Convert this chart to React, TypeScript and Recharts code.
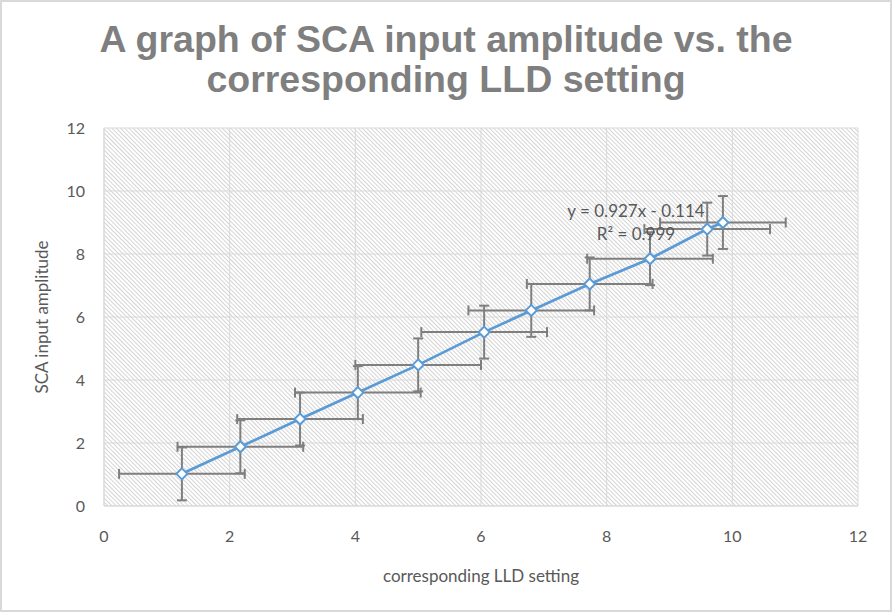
import React from "react";
import {
  CartesianGrid,
  ErrorBar,
  Scatter,
  ScatterChart,
  XAxis,
  YAxis,
} from "recharts";

// LLD setting (x) against SCA input amplitude (y)
const lldSetting = [1.24, 2.17, 3.12, 4.04, 5.0, 6.05, 6.8, 7.73, 8.69, 9.6, 9.85];
const scaAmplitude = [1.02, 1.88, 2.76, 3.6, 4.48, 5.52, 6.21, 7.05, 7.85, 8.79, 9.0];
const lldError = [1, 1, 1, 1, 1, 1, 1, 1, 1, 1, 1];
const ampError = [0.84, 0.84, 0.84, 0.84, 0.84, 0.84, 0.84, 0.84, 0.84, 0.84, 0.84];

const xTicks = [0, 2, 4, 6, 8, 10, 12];
const yTicks = [0, 2, 4, 6, 8, 10, 12];

const titleLines = ["A graph of SCA input amplitude vs. the", "corresponding LLD setting"];
const fitLines = ["y = 0.927x - 0.114", "R\u00b2 = 0.999"];

const BLUE = "#5b9bd5";
const GRID = "#d9d9d9";
const TEXT = "#595959";
const FONT = "Lato, 'Open Sans', sans-serif";

const points = lldSetting.map((x, i) => ({
  x,
  y: scaAmplitude[i],
  xErr: lldError[i],
  yErr: ampError[i],
}));

function Diamond(props: any) {
  const { cx, cy } = props;
  if (cx == null || cy == null) return null;
  const r = 5.5;
  return (
    <path
      d={`M${cx},${cy - r}L${cx + r},${cy}L${cx},${cy + r}L${cx - r},${cy}Z`}
      fill="#fff"
      stroke={BLUE}
      strokeWidth={2}
    />
  );
}

export default function App() {
  const tick = { fill: TEXT, fontSize: 16, fontFamily: FONT };
  const axisTitle = { fill: TEXT, fontSize: 17, fontFamily: FONT };
  return (
    <div
      style={{
        position: "relative",
        width: 892,
        height: 612,
        background: "#fff",
        boxSizing: "border-box",
        border: `2px solid ${GRID}`,
        overflow: "hidden",
      }}
    >
      <style>{`body{margin:0}`}</style>
      <div style={{ position: "absolute", left: -2, top: -2 }}>
        <ScatterChart
          width={892}
          height={612}
          margin={{ top: 128, right: 34, bottom: 46, left: 44 }}
        >
          <defs>
            <pattern
              id="hatch"
              width={3}
              height={3}
              patternUnits="userSpaceOnUse"
              patternTransform="rotate(-45)"
            >
              <rect width={3} height={3} fill="#fff" />
              <line x1={0.5} y1={0} x2={0.5} y2={3} stroke="#cfcfcf" strokeWidth={0.9} />
            </pattern>
          </defs>
          <CartesianGrid stroke={GRID} fill="url(#hatch)" fillOpacity={1} />
          <XAxis
            type="number"
            dataKey="x"
            domain={[0, 12]}
            ticks={xTicks}
            tickLine={false}
            axisLine={{ stroke: GRID }}
            tick={tick}
            tickMargin={19}
            height={60}
            label={{
              value: "corresponding LLD setting",
              position: "bottom",
              offset: 4,
              style: axisTitle,
            }}
          />
          <YAxis
            type="number"
            dataKey="y"
            domain={[0, 12]}
            ticks={yTicks}
            tickLine={false}
            axisLine={{ stroke: GRID }}
            tick={tick}
            tickMargin={13}
            width={60}
            label={{
              value: "SCA input amplitude",
              angle: -90,
              position: "insideLeft",
              offset: -2,
              style: { ...axisTitle, textAnchor: "middle" },
            }}
          />
          <Scatter
            data={points}
            isAnimationActive={false}
            line={{ stroke: BLUE, strokeWidth: 2.75 }}
            lineType="joint"
            shape={<Diamond />}
          >
            <ErrorBar dataKey="xErr" direction="x" width={5} stroke="#7f7f7f" strokeWidth={2} />
            <ErrorBar dataKey="yErr" direction="y" width={5} stroke="#7f7f7f" strokeWidth={2} />
          </Scatter>
        </ScatterChart>
      </div>
      <svg
        width={892}
        height={612}
        style={{ position: "absolute", left: -2, top: -2, pointerEvents: "none" }}
      >
        <text
          x={446}
          y={52}
          textAnchor="middle"
          fill="#7f7f7f"
          fontSize={37.5}
          fontWeight="bold"
          fontFamily="'Liberation Sans', Arial, sans-serif"
        >
          {titleLines[0]}
        </text>
        <text
          x={446}
          y={92}
          textAnchor="middle"
          fill="#7f7f7f"
          fontSize={37.5}
          fontWeight="bold"
          fontFamily="'Liberation Sans', Arial, sans-serif"
        >
          {titleLines[1]}
        </text>
        <text x={636} y={217} textAnchor="middle" fill={TEXT} fontSize={17} fontFamily={FONT}>
          {fitLines[0]}
        </text>
        <text x={636} y={240} textAnchor="middle" fill={TEXT} fontSize={17} fontFamily={FONT}>
          {fitLines[1]}
        </text>
      </svg>
    </div>
  );
}
